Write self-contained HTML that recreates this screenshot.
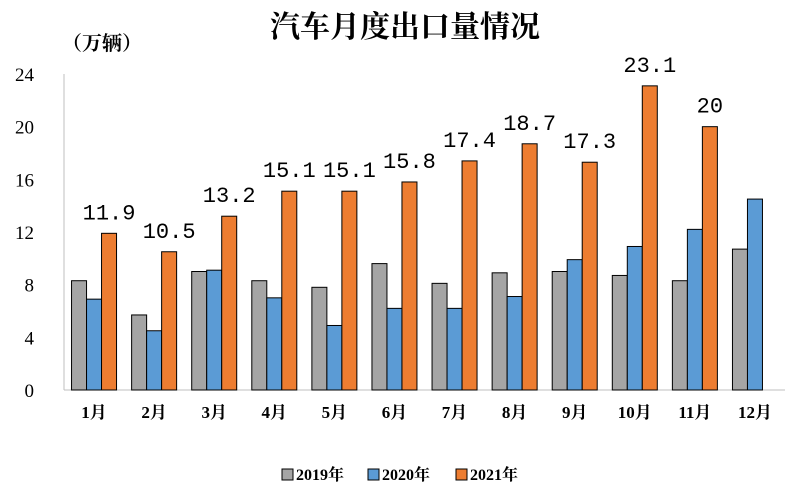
<!DOCTYPE html>
<html><head><meta charset="utf-8"><style>
body{margin:0;background:#fff;}
svg text{font-family:"Liberation Serif","Noto Serif CJK SC",serif;}
</style></head><body>
<svg id="chart" width="793" height="499" viewBox="0 0 793 499" xmlns="http://www.w3.org/2000/svg">
<text x="405" y="37" text-anchor="middle" font-size="30" font-weight="bold" fill="#000">汽车月度出口量情况</text>
<text x="62" y="50" font-size="20" font-weight="bold" fill="#000">（万辆）</text>
<g id="axes"></g><g id="bars"></g><g id="labels"></g><g id="legend"></g>
</svg>
<script>
const categories=["1月","2月","3月","4月","5月","6月","7月","8月","9月","10月","11月","12月"];
const s2019=[8.3,5.7,9.0,8.3,7.8,9.6,8.1,8.9,9.0,8.7,8.3,10.7];
const s2020=[6.9,4.5,9.1,7.0,4.9,6.2,6.2,7.1,9.9,10.9,12.2,14.5];
const s2021=[11.9,10.5,13.2,15.1,15.1,15.8,17.4,18.7,17.3,23.1,20,null];
const yTicks=[0,4,8,12,16,20,24];
const seriesNames=["2019年","2020年","2021年"];
const colors=["#a5a5a5","#5b9bd5","#ed7d31"];
const NS="http://www.w3.org/2000/svg";
const x0=64,x1=785,yBase=390,yTop=74,yMax=24;
const gw=(x1-x0)/12,bw=15;
function y(v){return yBase-(v/yMax)*(yBase-yTop);}
function gx(i){return x0+gw*(i+0.5);}
function mk(tag,attrs,parent){const e=document.createElementNS(NS,tag);for(const k in attrs)e.setAttribute(k,attrs[k]);parent.appendChild(e);return e;}
const axes=document.getElementById('axes'),bars=document.getElementById('bars'),labels=document.getElementById('labels'),legend=document.getElementById('legend');
let l=mk('line',{x1:x0,y1:yTop,x2:x0,y2:yBase,stroke:'#bfbfbf'},axes);


l=mk('line',{x1:x0,y1:yBase,x2:x1,y2:yBase,stroke:'#bfbfbf'},axes);


yTicks.forEach(t=>{const e=mk('text',{x:34,y:y(t)+7,'text-anchor':'end','font-size':19,fill:'#000'},axes);e.textContent=t;

});
categories.forEach((c,i)=>{const e=mk('text',{x:gx(i),y:418,'text-anchor':'middle','font-size':17,'font-weight':'bold',fill:'#000'},axes);e.textContent=c;

});
[s2019,s2020,s2021].forEach((s,k)=>{s.forEach((v,i)=>{if(v==null)return;
const bx=gx(i)-bw*1.5+k*bw;
const r=mk('rect',{x:bx,y:y(v),width:bw,height:yBase-y(v),fill:colors[k],stroke:'#000','stroke-width':1},bars);


if(k===2){const t=mk('text',{x:bx+bw/2,y:y(v)-14,'text-anchor':'middle','font-size':22,fill:'#000',style:'font-family:"Liberation Mono",monospace'},labels);t.textContent=v;

}
});});
const lx=[282,368,456];
seriesNames.forEach((n,k)=>{const g=mk('g',{},legend);


mk('rect',{x:lx[k],y:469,width:11,height:11,fill:colors[k],stroke:'#000'},g);
const t=mk('text',{x:lx[k]+14,y:480,'font-size':16,'font-weight':'bold',fill:'#000'},g);t.textContent=n;});
</script>
</body></html>
